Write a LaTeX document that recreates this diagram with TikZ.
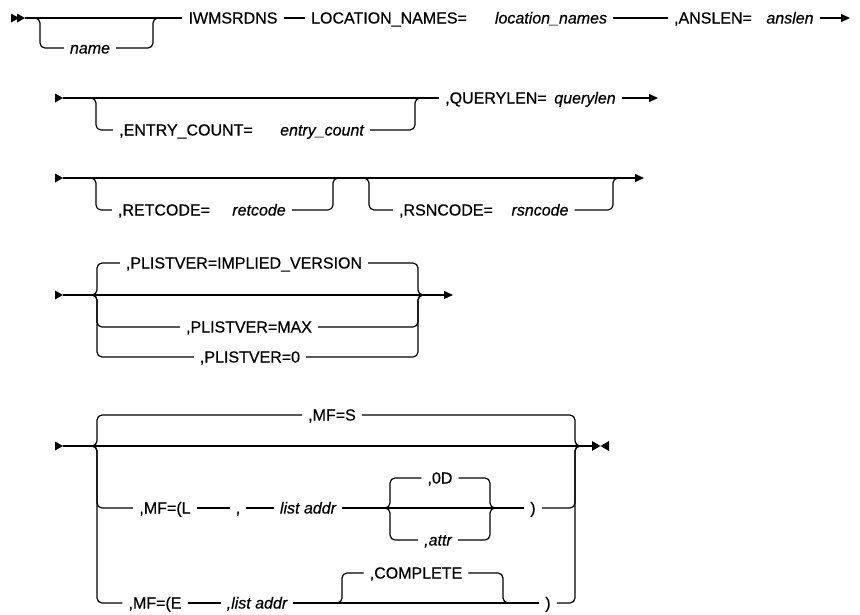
\documentclass[tikz,border=0pt]{standalone}
\usepackage{fontspec}
\setmainfont{Liberation Sans}[FakeBold=0.5]
\usetikzlibrary{arrows.meta}
\newcommand{\railstart}[1]{\fill[shift={(#1)}] (-8,-4.5) -- (0,0) -- (-8,4.5) -- cycle;}
\newcommand{\railstop}[1]{\fill[shift={(#1)}] (0,-5) -- (8.5,0) -- (0,5) -- cycle
  (17,-5) -- (8.5,0) -- (17,5) -- cycle;}

\begin{document}
\begin{tikzpicture}[x=1pt,y=-1pt,
  rail/.style={line width=1.2pt,rounded corners=5pt},
  tip/.style={-{Triangle[length=9pt,width=8pt]}},
  kw/.style={inner xsep=6pt,inner ysep=0pt,text height=11pt,text depth=0pt,
    font=\fontsize{16}{19}\selectfont},
  var/.style={kw,font=\fontsize{16}{19}\selectfont\itshape}]
  \useasboundingbox (0,0) rectangle (860,614);
  % (1) optional name, then the macro and its first operands
  \begin{scope}
    \coordinate (s1) at (25,18);
    \railstart{19,18} \railstart{s1}
    \node[var] (nm) at (90,48) {name};
    \node[kw] (iw) at (233,18) {IWMSRDNS};
    \node[kw] (loc) at (389,18) {LOCATION\_NAMES=};
    \node[var] (locv) at (551,18) {location\_names};
    \node[kw] (ans) at (713,18) {,ANSLEN=};
    \node[var] (ansv) at (790,18) {anslen};
    \coordinate (e1) at (850,18);
    \draw[rail] (s1) -- (iw);
    \draw[rail] (32,18) -| (40,48) -- (nm);
    \draw[rail] (nm) -- (153,48) |- (161,18);
    \draw[rail] (iw) -- (loc);
    \draw[rail] (locv) -- (ans);
    \draw[rail,tip] (ansv) -- (e1);
  \end{scope}
  % (2) optional entry count
  \begin{scope}
    \coordinate (s2) at (63,98);
    \railstart{s2}
    \node[kw] (ent) at (186,130) {,ENTRY\_COUNT=};
    \node[var] (entv) at (322,130) {entry\_count};
    \node[kw] (qry) at (496,98) {,QUERYLEN=};
    \node[var] (qryv) at (585,98) {querylen};
    \coordinate (e2) at (658,98);
    \draw[rail] (s2) -- (qry);
    \draw[rail] (88,98) -| (96,130) -- (ent);
    \draw[rail] (entv) -- (415,130) |- (423,98);
    \draw[rail,tip] (qryv) -- (e2);
  \end{scope}
  % (3) optional return and reason codes
  \begin{scope}
    \coordinate (s3) at (63,178);
    \railstart{s3}
    \coordinate (e3) at (644,178);
    \node[kw] (ret) at (164,210) {,RETCODE=};
    \node[var] (retv) at (259,210) {retcode};
    \node[kw] (rsn) at (446,210) {,RSNCODE=};
    \node[var] (rsnv) at (540,210) {rsncode};
    \draw[rail,tip] (s3) -- (e3);
    \draw[rail] (88,178) -| (96,210) -- (ret);
    \draw[rail] (retv) -- (333,210) |- (341,178);
    \draw[rail] (361,178) -| (369,210) -- (rsn);
    \draw[rail] (rsnv) -- (613,210) |- (621,178);
  \end{scope}
  % (4) parameter list version
  \begin{scope}
    \coordinate (s4) at (63,295);
    \railstart{s4}
    \coordinate (e4) at (453,295);
    \node[kw] (pimp) at (244,263) {,PLISTVER=IMPLIED\_VERSION};
    \node[kw] (pmax) at (249,327) {,PLISTVER=MAX};
    \node[kw] (pz) at (250,357) {,PLISTVER=0};
    \draw[rail,tip] (s4) -- (e4);
    \draw[rail] (89,295) -| (97,263) -- (pimp);
    \draw[rail] (pimp) -- (418,263) |- (426,295);
    \draw[rail] (89,295) -| (97,327) -- (pmax);
    \draw[rail] (pmax) -- (418,327) |- (426,295);
    \draw[rail] (89,295) -| (97,357) -- (pz);
    \draw[rail] (pz) -- (418,357) |- (426,295);
  \end{scope}
  % (5) macro form
  \begin{scope}
    \coordinate (s5) at (63,446);
    \railstart{s5}
    \coordinate (e5) at (592,446);
    \railstop{e5}
    \node[kw] (mfs) at (332,415) {,MF=S};
    \node[kw] (mfl) at (165,508) {,MF=(L};
    \node[kw] (cm) at (238,508) {,};
    \node[var] (lstl) at (308,508) {list addr};
    \node[kw] (od) at (440,478) {,0D};
    \node[var] (attr) at (438,540) {,attr};
    \node[kw] (pl) at (533,508) {)};
    \node[kw] (mfe) at (155,603) {,MF=(E};
    \node[var] (lste) at (257,603) {,list addr};
    \node[kw] (cmp) at (416,573) {,COMPLETE};
    \node[kw] (pe) at (548,603) {)};
    \draw[rail] (s5) -- (e5);
    \draw[rail] (89,446) -| (97,415) -- (mfs);
    \draw[rail] (mfs) -- (575,415) |- (583,446);
    \draw[rail] (89,446) -| (97,508) -- (mfl);
    \draw[rail] (mfl) -- (cm);
    \draw[rail] (cm) -- (lstl);
    \draw[rail] (lstl) -- (pl);
    \draw[rail] (381,508) -| (390,478) -- (od);
    \draw[rail] (od) -- (490,478) |- (498,508);
    \draw[rail] (381,508) -| (390,540) -- (attr);
    \draw[rail] (attr) -- (490,540) |- (498,508);
    \draw[rail] (pl) -- (575,508) |- (583,446);
    \draw[rail] (89,446) -| (97,603) -- (mfe);
    \draw[rail] (mfe) -- (lste);
    \draw[rail] (lste) -- (pe);
    \draw[rail] (334,603) -| (342,573) -- (cmp);
    \draw[rail] (cmp) -- (503,573) |- (511,603);
    \draw[rail] (pe) -- (575,603) |- (583,446);
  \end{scope}
\end{tikzpicture}
\end{document}
